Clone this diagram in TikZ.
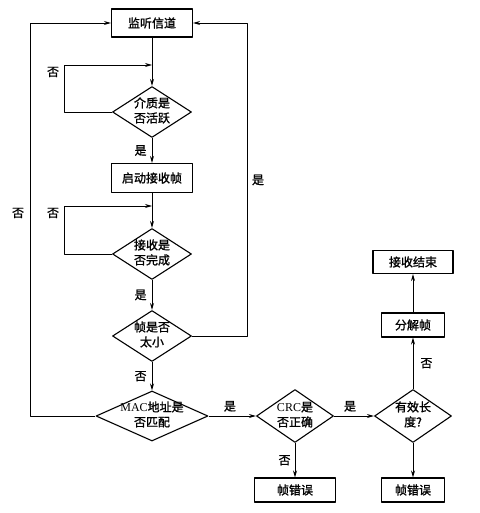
\documentclass[tikz,border=0pt]{standalone}
\usepackage{fontspec}
\setmainfont{Liberation Serif}
\newfontfamily\cjk[FakeBold=1.2]{Noto Sans CJK SC}
\usetikzlibrary{shapes.geometric,arrows.meta}
\newcommand{\dtext}[2]{\makebox[0pt]{\smash{\raisebox{-3pt}{\begin{tabular}{@{}c@{}}#1\\#2\end{tabular}}}}}
\tikzset{
	box/.style={draw, line width=1.1pt, minimum width=81pt, minimum height=28pt, inner sep=0pt},
	dec/.style={draw, diamond, line width=1.1pt, inner sep=0pt, minimum width=79pt, minimum height=51pt},
	lab/.style={inner sep=0pt},
	line/.style={line width=0.8pt},
}
\begin{document}
\begin{tikzpicture}[x=1pt,y=-1pt,>={Stealth[length=7pt,width=4pt]}, font=\fontsize{12}{15}\selectfont\cjk, line join=round]
	\useasboundingbox (0,0) rectangle (479,513);
	% main column
	\node[box] (listen) at (152,23) {监听信道};
	\node[dec] (act) at (152,112) {\dtext{介质是}{否活跃}};
	\node[box, minimum height=29pt] (start) at (152,178) {启动接收帧};
	\node[dec] (done) at (152,254) {\dtext{接收是}{否完成}};
	\node[dec] (small) at (152,336) {\dtext{帧是否}{太小}};
	\node[dec, minimum width=112pt, minimum height=50pt] (mac) at (152,416) {\dtext{{\rmfamily\large MAC}地址是}{否匹配}};
	% right part
	\node[dec, minimum width=77pt, minimum height=53pt] (crc) at (295,416) {\dtext{{\rmfamily\large CRC}是}{否正确}};
	\node[dec, minimum width=77pt, minimum height=53pt] (len) at (413,416) {\dtext{有效长}{度?}};
	\node[box, minimum height=24pt] (err1) at (295,490) {帧错误};
	\node[box, minimum width=63pt, minimum height=24pt] (err2) at (413,490) {帧错误};
	\node[box, minimum width=63pt, minimum height=24pt] (split) at (413,325) {分解帧};
	\node[box, minimum width=80pt, minimum height=23pt] (end) at (413,262) {接收结束};
	\coordinate (j1) at (152,65);
	\coordinate (j2) at (152,206);
	% connectors
	\draw[line,->] (listen) -- (act);
	\draw[line,->] (act) -- node[lab,left=5pt] (y1) {是} (start);
	\draw[line,->] (act.west) -- ++(-48,0) |- (j1);
	\node[lab] (n1) at (53,72) {否};
	\draw[line,->] (start) -- (done);
	\draw[line,->] (done.west) -- ++(-48,0) |- (j2);
	\node[lab] (n2) at (53,213) {否};
	\draw[line,->] (done) -- node[lab,left=5pt] (y2) {是} (small);
	\draw[line,->] (small.east) -- ++(55.5,0) |- (listen.east);
	\node[lab] (y3) at (258,180) {是};
	\draw[line,->] (small) -- node[lab,left=5pt] (n3) {否} (mac);
	\draw[line,->] (mac.west) -- ++(-65,0) |- (listen.west);
	\node[lab] (n4) at (18,213) {否};
	\draw[line,->] (mac) -- node[lab,above=4pt,pos=0.45] (y4) {是} (crc);
	\draw[line,->] (crc) -- node[lab,above=4pt,pos=0.4] (y5) {是} (len);
	\draw[line,->] (crc) -- node[lab,left=4pt] (n5) {否} (err1);
	\draw[line,->] (len) -- (err2);
	\draw[line,->] (len) -- node[lab,right=7pt] (n6) {否} (split);
	\draw[line,->] (split) -- (end);
\end{tikzpicture}
\end{document}
